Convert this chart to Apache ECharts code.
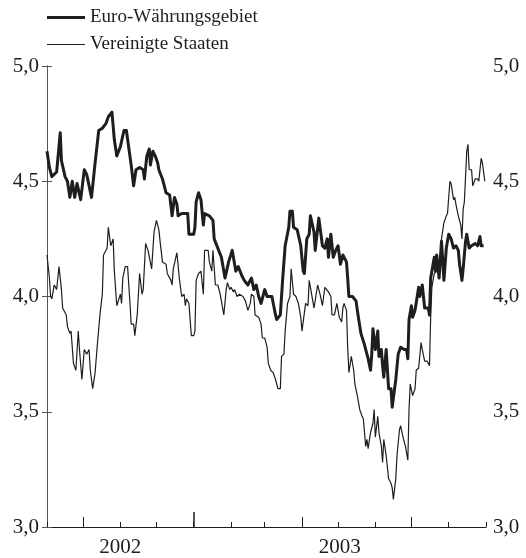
<!DOCTYPE html>
<html>
<head>
<meta charset="utf-8">
<script src="https://cdn.jsdelivr.net/npm/echarts@6/dist/echarts.min.js"></script>
<style>
  html, body { margin: 0; padding: 0; background: #ffffff; }
  #chart { width: 526px; height: 558px; }
</style>
</head>
<body>
<div id="chart"></div>
<script>
// Ten-year government bond yields (% p.a.), daily observations.
// Observation dates are given as day offsets from 1 September 2002.
const DAY = 86400000;
const startDate = Date.UTC(2002, 8, 1);
const endDate = Date.UTC(2003, 8, 1);

const seriesNames = ['Euro-Währungsgebiet', 'Vereinigte Staaten'];

const euroDays = [
  0, 2, 4, 8, 11, 12, 15, 17, 19, 21,
  23, 25, 28, 31, 33, 37, 40, 43, 46, 49,
  51, 54, 56, 58, 61, 64, 66, 70, 72, 74,
  77, 80, 81, 83, 85, 86, 88, 90, 92, 93,
  96, 99, 102, 104, 106, 108, 109, 112, 117, 118,
  122, 123, 124, 126, 128, 130, 131, 135, 138, 139,
  142, 145, 148, 151, 154, 157, 159, 162, 164, 167,
  170, 172, 174, 176, 178, 181, 183, 187, 190, 191,
  194, 196, 198, 201, 202, 204, 205, 208, 211, 213,
  214, 216, 218, 219, 222, 223, 226, 229, 231, 233,
  234, 236, 238, 240, 242, 244, 246, 249, 250, 251,
  254, 257, 258, 261, 264, 265, 267, 269, 270, 271,
  273, 275, 276, 278, 279, 280, 282, 284, 286, 287,
  290, 292, 294, 297, 299, 300, 301, 303, 304, 306,
  309, 310, 312, 314, 317, 318, 319, 322, 323, 324,
  326, 328, 330, 332, 334, 336, 338, 340, 342, 343,
  345, 346, 348, 349, 351, 353, 356, 358, 360, 361,
  363
];
const euroYield = [
  4.63, 4.56, 4.52, 4.54, 4.71, 4.59, 4.52, 4.50, 4.43, 4.50,
  4.43, 4.49, 4.42, 4.55, 4.53, 4.43, 4.58, 4.72, 4.73, 4.75,
  4.78, 4.80, 4.68, 4.61, 4.65, 4.72, 4.72, 4.57, 4.48, 4.55,
  4.56, 4.55, 4.51, 4.61, 4.64, 4.57, 4.63, 4.61, 4.58, 4.55,
  4.51, 4.45, 4.44, 4.35, 4.43, 4.40, 4.35, 4.36, 4.36, 4.27,
  4.27, 4.30, 4.41, 4.45, 4.42, 4.31, 4.36, 4.35, 4.33, 4.25,
  4.21, 4.17, 4.08, 4.15, 4.20, 4.11, 4.13, 4.09, 4.07, 4.05,
  4.08, 4.03, 4.05, 4.00, 3.97, 4.03, 4.00, 4.00, 3.92, 3.90,
  3.92, 4.08, 4.22, 4.30, 4.37, 4.37, 4.30, 4.29, 4.22, 4.11,
  4.10, 4.25, 4.27, 4.35, 4.28, 4.20, 4.34, 4.22, 4.21, 4.25,
  4.17, 4.27, 4.17, 4.20, 4.22, 4.14, 4.18, 4.15, 4.08, 4.00,
  4.00, 3.98, 3.94, 3.84, 3.79, 3.77, 3.73, 3.68, 3.75, 3.86,
  3.77, 3.85, 3.74, 3.77, 3.70, 3.65, 3.77, 3.60, 3.60, 3.52,
  3.64, 3.75, 3.78, 3.77, 3.77, 3.73, 3.90, 3.96, 3.91, 3.94,
  4.04, 4.00, 4.05, 3.95, 3.95, 3.92, 4.08, 4.17, 4.11, 4.18,
  4.08, 4.24, 4.07, 4.21, 4.27, 4.25, 4.21, 4.22, 4.20, 4.14,
  4.07, 4.12, 4.24, 4.27, 4.21, 4.22, 4.23, 4.22, 4.26, 4.22,
  4.22
];

const usDays = [
  0, 2, 3, 4, 6, 8, 10, 12, 13, 16,
  17, 19, 20, 22, 24, 26, 27, 29, 31, 33,
  35, 36, 38, 40, 42, 44, 46, 47, 50, 51,
  53, 55, 56, 58, 61, 62, 63, 65, 67, 69,
  70, 72, 73, 75, 77, 79, 80, 82, 84, 87,
  89, 91, 93, 94, 96, 99, 100, 103, 104, 105,
  108, 110, 112, 114, 115, 116, 118, 120, 122, 123,
  124, 126, 128, 130, 131, 134, 135, 137, 138, 140,
  142, 144, 145, 147, 149, 150, 152, 153, 155, 156,
  158, 160, 163, 165, 167, 169, 170, 172, 173, 176,
  178, 179, 181, 183, 184, 186, 188, 190, 192, 194,
  195, 197, 198, 200, 202, 203, 205, 207, 209, 211,
  212, 213, 215, 217, 218, 220, 222, 223, 225, 227,
  229, 231, 234, 236, 237, 239, 241, 243, 245, 246,
  247, 249, 250, 251, 253, 255, 256, 258, 260, 262,
  263, 265, 266, 267, 269, 271, 272, 273, 275, 276,
  278, 279, 280, 282, 284, 286, 287, 288, 290, 291,
  293, 294, 296, 298, 300, 301, 302, 304, 306, 307,
  309, 311, 312, 314, 316, 318, 319, 320, 322, 324,
  327, 328, 330, 332, 333, 335, 336, 338, 339, 340,
  342, 344, 345, 346, 347, 349, 350, 351, 353, 354,
  356, 358, 359, 361, 362, 364
];
const usYield = [
  4.18, 4.08, 4.00, 3.99, 4.05, 4.03, 4.13, 4.03, 3.95, 3.92,
  3.87, 3.84, 3.85, 3.71, 3.68, 3.85, 3.77, 3.64, 3.77, 3.75,
  3.77, 3.68, 3.60, 3.67, 3.80, 3.92, 4.01, 4.18, 4.21, 4.30,
  4.22, 4.25, 4.11, 3.96, 4.01, 3.97, 4.08, 4.13, 4.13, 3.97,
  3.88, 3.88, 3.83, 3.92, 4.10, 4.01, 4.03, 4.23, 4.20, 4.12,
  4.28, 4.33, 4.29, 4.24, 4.15, 4.14, 4.10, 4.07, 4.05, 4.12,
  4.19, 4.08, 4.00, 4.01, 3.96, 3.99, 3.97, 3.83, 3.83, 3.85,
  4.07, 4.10, 4.11, 4.01, 4.20, 4.20, 4.15, 4.11, 4.20, 4.05,
  4.05, 4.01, 3.98, 3.92, 4.03, 4.06, 4.03, 4.04, 4.02, 4.03,
  4.00, 4.01, 4.00, 3.98, 3.94, 3.97, 4.01, 4.00, 3.92, 3.91,
  3.88, 3.82, 3.82, 3.78, 3.71, 3.68, 3.67, 3.64, 3.60, 3.60,
  3.74, 3.75, 3.85, 3.97, 4.00, 4.12, 4.01, 4.00, 3.97, 3.91,
  3.85, 3.85, 3.97, 3.96, 4.07, 4.01, 3.95, 3.95, 4.05, 4.01,
  3.96, 4.04, 4.02, 4.00, 3.92, 3.92, 3.97, 3.91, 3.89, 3.95,
  3.97, 3.94, 3.78, 3.67, 3.74, 3.68, 3.62, 3.57, 3.51, 3.48,
  3.47, 3.35, 3.38, 3.34, 3.41, 3.45, 3.51, 3.39, 3.48, 3.41,
  3.35, 3.28, 3.38, 3.31, 3.21, 3.19, 3.17, 3.12, 3.21, 3.31,
  3.42, 3.44, 3.39, 3.35, 3.29, 3.51, 3.62, 3.57, 3.60, 3.68,
  3.69, 3.80, 3.77, 3.72, 3.72, 3.70, 3.91, 4.04, 4.10, 4.11,
  4.17, 4.25, 4.32, 4.35, 4.36, 4.50, 4.49, 4.42, 4.43, 4.40,
  4.35, 4.31, 4.25, 4.38, 4.41, 4.63, 4.66, 4.55, 4.55, 4.48,
  4.51, 4.51, 4.50, 4.60, 4.58, 4.50
];

// Value axis range
const yMin = 3.0;
const yMax = 5.0;
const yStep = 0.5;

// Horizontal axis runs in days since the start date
const spanDays = Math.round((endDate - startDate) / DAY);
const dayOf = t => Math.round((t - startDate) / DAY);
const toPairs = (days, vals) => days.map((d, i) => [d, vals[i]]);

// Tick positions: every month, taller at quarters, tallest at the year change
const monthTicks = [];
for (let m = 0; m <= 12; m++) monthTicks.push(dayOf(Date.UTC(2002, 8 + m, 1)));
const yearTick = dayOf(Date.UTC(2003, 0, 1));
const quarterTicks = [];
for (let m = 0; m <= 12; m++) {
  const t = Date.UTC(2002, 8 + m, 1);
  const d = dayOf(t);
  if (new Date(t).getUTCMonth() % 3 === 0 && d !== yearTick && d > 0 && d < spanDays) quarterTicks.push(d);
}
// Year labels sit in the middle of each year's visible span
const yearLabelPos = [yearTick / 2, (yearTick + spanDays) / 2];
const yearOf = d => new Date(startDate + d * DAY).getUTCFullYear();

const FONT = '"Liberation Serif", "DejaVu Serif", serif';
const INK = '#1e1e1e';
const EURO_WIDTH = 3;
const US_WIDTH = 1.2;

const baseX = {
  type: 'value',
  min: 0,
  max: spanDays,
  gridIndex: 0,
  position: 'bottom',
  splitLine: { show: false }
};

const baseY = {
  type: 'value',
  min: yMin,
  max: yMax,
  interval: yStep,
  splitLine: { show: false },
  axisLine: { show: true, lineStyle: { color: '#555', width: 1 } },
  axisTick: { show: true, inside: true, length: 5, lineStyle: { color: '#555' } },
  axisLabel: {
    formatter: v => v.toFixed(1).replace('.', ','),
    fontFamily: FONT,
    fontSize: 21,
    color: INK
  }
};

// Legend keys: plain line segments of the series' stroke widths
const keyPath = w => 'path://M0,0H38V' + w + 'H0Z';

const chart = echarts.init(document.getElementById('chart'), null, { renderer: 'canvas' });
chart.setOption({
  animation: false,
  backgroundColor: '#ffffff',
  grid: { left: 47, right: 40, top: 66, bottom: 26 },
  legend: {
    orient: 'vertical',
    left: 42,
    top: 3,
    itemWidth: 38,
    itemHeight: 14,
    itemGap: 8,
    symbolKeepAspect: true,
    data: [
      { name: seriesNames[0], icon: keyPath(EURO_WIDTH), itemStyle: { color: INK } },
      { name: seriesNames[1], icon: keyPath(US_WIDTH), itemStyle: { color: INK } }
    ],
    textStyle: { fontFamily: FONT, fontSize: 19, color: INK }
  },
  xAxis: [
    {
      ...baseX,
      axisLine: { show: true, lineStyle: { color: INK, width: 1 } },
      axisTick: { show: true, inside: true, length: 5, customValues: monthTicks, lineStyle: { color: INK } },
      axisLabel: {
        customValues: yearLabelPos,
        formatter: v => String(yearOf(v)),
        margin: 10,
        fontFamily: FONT,
        fontSize: 21,
        color: INK
      }
    },
    {
      ...baseX,
      axisLine: { show: false },
      axisTick: { show: true, inside: true, length: 10, customValues: quarterTicks, lineStyle: { color: INK } },
      axisLabel: { show: false }
    },
    {
      ...baseX,
      axisLine: { show: false },
      axisTick: { show: true, inside: true, length: 15, customValues: [yearTick], lineStyle: { color: INK, width: 1.5 } },
      axisLabel: { show: false }
    }
  ],
  yAxis: [
    { ...baseY, position: 'left', axisLabel: { ...baseY.axisLabel, margin: 8 } },
    { ...baseY, position: 'right', axisLabel: { ...baseY.axisLabel, margin: 7 } }
  ],
  series: [
    {
      name: seriesNames[0],
      type: 'line',
      xAxisIndex: 0,
      yAxisIndex: 0,
      data: toPairs(euroDays, euroYield),
      symbol: 'none',
      lineStyle: { color: INK, width: EURO_WIDTH, join: 'round' },
      itemStyle: { color: INK },
      z: 3
    },
    {
      name: seriesNames[1],
      type: 'line',
      xAxisIndex: 0,
      yAxisIndex: 0,
      data: toPairs(usDays, usYield),
      symbol: 'none',
      lineStyle: { color: INK, width: US_WIDTH },
      itemStyle: { color: INK },
      z: 2
    }
  ]
});
</script>
</body>
</html>
